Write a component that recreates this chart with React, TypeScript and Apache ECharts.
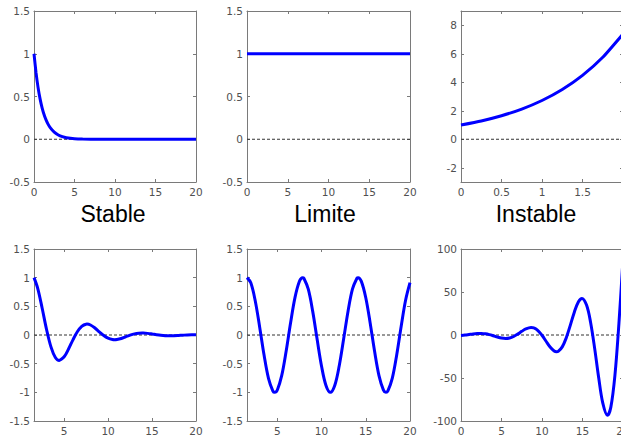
import React, { useEffect, useRef } from "react";
import * as echarts from "echarts";

// Stable: decaying exponential
const stableT = [0, 0.25, 0.5, 0.75, 1, 1.25, 1.5, 1.75, 2, 2.5, 3, 3.5, 4, 5, 6, 8, 10, 15, 20];
const stableY = [1, 0.7788, 0.6065, 0.4724, 0.3679, 0.2865, 0.2231, 0.1738, 0.1353, 0.0821, 0.0498, 0.0302, 0.0183, 0.0067, 0.0025, 0.0003, 0, 0, 0];

// Limite: constant
const limiteT = [0, 20];
const limiteY = [1, 1];

// Instable: growing exponential
const instableT = [0, 0.25, 0.5, 0.75, 1, 1.25, 1.5, 1.75, 2];
const instableY = [1, 1.284, 1.6487, 2.117, 2.7183, 3.4903, 4.4817, 5.7546, 7.3891];

// Damped oscillation
const amortiT = [1.5708, 2, 2.5, 3, 3.5, 4, 4.449, 4.5, 5, 5.5, 6, 6.5, 7, 7.5, 7.591, 8, 8.5, 9, 9.5, 10, 10.5, 10.732, 11, 11.5, 12, 12.5, 13, 13.5, 13.874, 14, 14.5, 15, 15.5, 16, 16.5, 17, 17.5, 18, 18.5, 19, 19.5, 20];
const amortiY = [1, 0.81, 0.466, 0.096, -0.208, -0.393, -0.4438, -0.443, -0.38, -0.244, -0.0845, 0.0568, 0.1517, 0.1892, 0.19, 0.1744, 0.1229, 0.0554, -0.0088, -0.0559, -0.0789, -0.0814, -0.0784, -0.06, -0.0321, -0.0035, 0.0192, 0.0321, 0.0348, 0.0346, 0.0285, 0.0173, 0.0048, -0.0058, -0.0127, -0.0149, -0.0133, -0.0089, -0.0036, 0.0014, 0.0048, 0.0063];

// Sustained oscillation
const entretenuT = [1.5708, 2, 2.5, 3, 3.5, 4, 4.5, 4.7124, 5, 5.5, 6, 6.5, 7, 7.5, 7.854, 8, 8.5, 9, 9.5, 10, 10.5, 11, 11.5, 12, 12.5, 13, 13.5, 14, 14.1372, 14.5, 15, 15.5, 16, 16.5, 17, 17.2788, 17.5, 18, 18.5, 19, 19.5, 20];
const entretenuY = [1, 0.9093, 0.5985, 0.1411, -0.3508, -0.7568, -0.9775, -1, -0.9589, -0.7055, -0.2794, 0.2151, 0.657, 0.938, 1, 0.9894, 0.7985, 0.4121, -0.0752, -0.544, -0.8797, -1, -0.8755, -0.5366, -0.0663, 0.4202, 0.8038, 0.9906, 1, 0.9349, 0.6503, 0.2065, -0.2879, -0.7118, -0.9614, -1, -0.9756, -0.751, -0.3425, 0.1499, 0.6055, 0.9129];

// Divergent oscillation
const divergeT = [0, 0.5, 1, 1.5, 2, 2.366, 2.5, 3, 3.5, 4, 4.5, 5, 5.507, 6, 6.5, 7, 7.5, 8, 8.649, 9, 9.5, 10, 10.5, 11, 11.5, 11.79, 12, 12.5, 13, 13.5, 14, 14.5, 14.932, 15.5, 16, 16.5, 17, 17.5, 18.074, 18.5, 19, 19.5, 20];
const divergeY = [-0.55, -0.06, 0.59, 1.24, 1.72, 1.84, 1.82, 1.42, 0.48, -0.87, -2.34, -3.54, -4.04, -3.48, -1.74, 1.0, 4.24, 7.14, 8.85, 8.25, 5.16, -0.32, -7.27, -14.04, -18.59, -19.42, -18.95, -13.81, -3.14, 11.49, 26.87, 38.72, 42.58, 34.78, 14.62, -15.56, -49.74, -78.93, -93.4, -83.87, -47.22, 13.78, 88.05];

const titles = ["Stable", "Limite", "Instable"];

const zip = (xs: number[], ys: number[]) => xs.map((x, i) => [x, ys[i]]);

const FRAME = "#7a7a7a";
const LABEL = "#505050";
const TICKFONT = "DejaVu Sans";

type AxisSpec = { min: number; max: number; interval?: number; custom?: number[]; labels?: number[] };

function makeAxes(kind: "x" | "y", gridIndex: number, spec: AxisSpec) {
  const base: any = {
    type: "value",
    gridIndex,
    min: spec.min,
    max: spec.max,
    splitLine: { show: false },
    axisLine: { show: true, onZero: false, lineStyle: { color: FRAME, width: 1 } },
  };
  if (spec.interval !== undefined) base.interval = spec.interval;
  const tick: any = { show: true, inside: true, length: 3, lineStyle: { color: FRAME, width: 1 } };
  const label: any = {
    show: true,
    color: LABEL,
    fontSize: 10.5,
    fontFamily: TICKFONT,
    margin: 4,
    showMinLabel: true,
    showMaxLabel: true,
  };
  if (spec.custom) {
    tick.customValues = spec.custom;
    label.customValues = spec.labels || spec.custom;
  }
  const main = {
    ...base,
    position: kind === "x" ? "bottom" : "left",
    axisTick: tick,
    axisLabel: label,
  };
  const mirror = {
    ...base,
    position: kind === "x" ? "top" : "right",
    axisTick: tick,
    axisLabel: { show: false },
  };
  return [main, mirror];
}

export default function App() {
  const ref = useRef<HTMLDivElement>(null);
  useEffect(() => {
    if (!ref.current) return;
    const chart = echarts.init(ref.current, undefined, { renderer: "svg" });

    const grids = [
      { left: 34, top: 11, width: 162, height: 171 },
      { left: 247, top: 11, width: 163, height: 171 },
      { left: 461, top: 11, width: 162, height: 171 },
      { left: 34, top: 249, width: 162, height: 172 },
      { left: 247, top: 249, width: 163, height: 172 },
      { left: 461, top: 249, width: 162, height: 172 },
    ];

    const xSpecs: AxisSpec[] = [
      { min: 0, max: 20, interval: 5 },
      { min: 0, max: 20, interval: 5 },
      { min: 0, max: 2, custom: [0, 0.5, 1, 1.5, 2], labels: [0, 0.5, 1, 1.5] },
      { min: 1.5708, max: 20, custom: [5, 10, 15, 20] },
      { min: 1.5708, max: 20, custom: [5, 10, 15, 20] },
      { min: 0, max: 20, interval: 5 },
    ];
    const ySpecs: AxisSpec[] = [
      { min: -0.5, max: 1.5, interval: 0.5 },
      { min: -0.5, max: 1.5, interval: 0.5 },
      { min: -3, max: 9, custom: [-2, 0, 2, 4, 6, 8] },
      { min: -1.5, max: 1.5, interval: 0.5 },
      { min: -1.5, max: 1.5, interval: 0.5 },
      { min: -100, max: 100, interval: 50 },
    ];

    const curves = [
      zip(stableT, stableY),
      zip(limiteT, limiteY),
      zip(instableT, instableY),
      zip(amortiT, amortiY),
      zip(entretenuT, entretenuY),
      zip(divergeT, divergeY),
    ];

    const xAxis: any[] = [];
    const yAxis: any[] = [];
    const series: any[] = [];
    grids.forEach((g, i) => {
      xAxis.push(...makeAxes("x", i, xSpecs[i]));
      yAxis.push(...makeAxes("y", i, ySpecs[i]));
      const xi = i * 2;
      const yi = i * 2;
      series.push({
        type: "line",
        xAxisIndex: xi,
        yAxisIndex: yi,
        data: [
          [xSpecs[i].min, 0],
          [xSpecs[i].max, 0],
        ],
        showSymbol: false,
        symbol: "none",
        silent: true,
        lineStyle: { color: "#333333", width: 1, type: [3, 2] },
        z: 2,
      });
      series.push({
        type: "line",
        xAxisIndex: xi,
        yAxisIndex: yi,
        data: curves[i],
        showSymbol: false,
        symbol: "none",
        smooth: i >= 3 ? 0.35 : 0.2,
        silent: true,
        clip: true,
        lineStyle: { color: "#0000ff", width: 3 },
        z: 3,
      });
    });

    const titleX = [113, 325, 536];
    const graphic = titles.map((t, i) => ({
      type: "text",
      x: titleX[i],
      y: 214,
      style: {
        text: t,
        fontSize: 23,
        fontFamily: "Liberation Sans, Arial, sans-serif",
        fill: "#000000",
        align: "center",
        verticalAlign: "middle",
        textAlign: "center",
        textVerticalAlign: "middle",
      },
    }));

    chart.setOption({
      animation: false,
      backgroundColor: "#ffffff",
      grid: grids.map((g) => ({ ...g, containLabel: false })),
      xAxis,
      yAxis,
      series,
      graphic,
    });
    return () => chart.dispose();
  }, []);
  return (
    <div
      style={{ position: "absolute", left: 0, top: 0, width: 621, height: 437, overflow: "hidden", background: "#fff" }}
    >
      <div ref={ref} style={{ width: 640, height: 437 }} />
    </div>
  );
}
